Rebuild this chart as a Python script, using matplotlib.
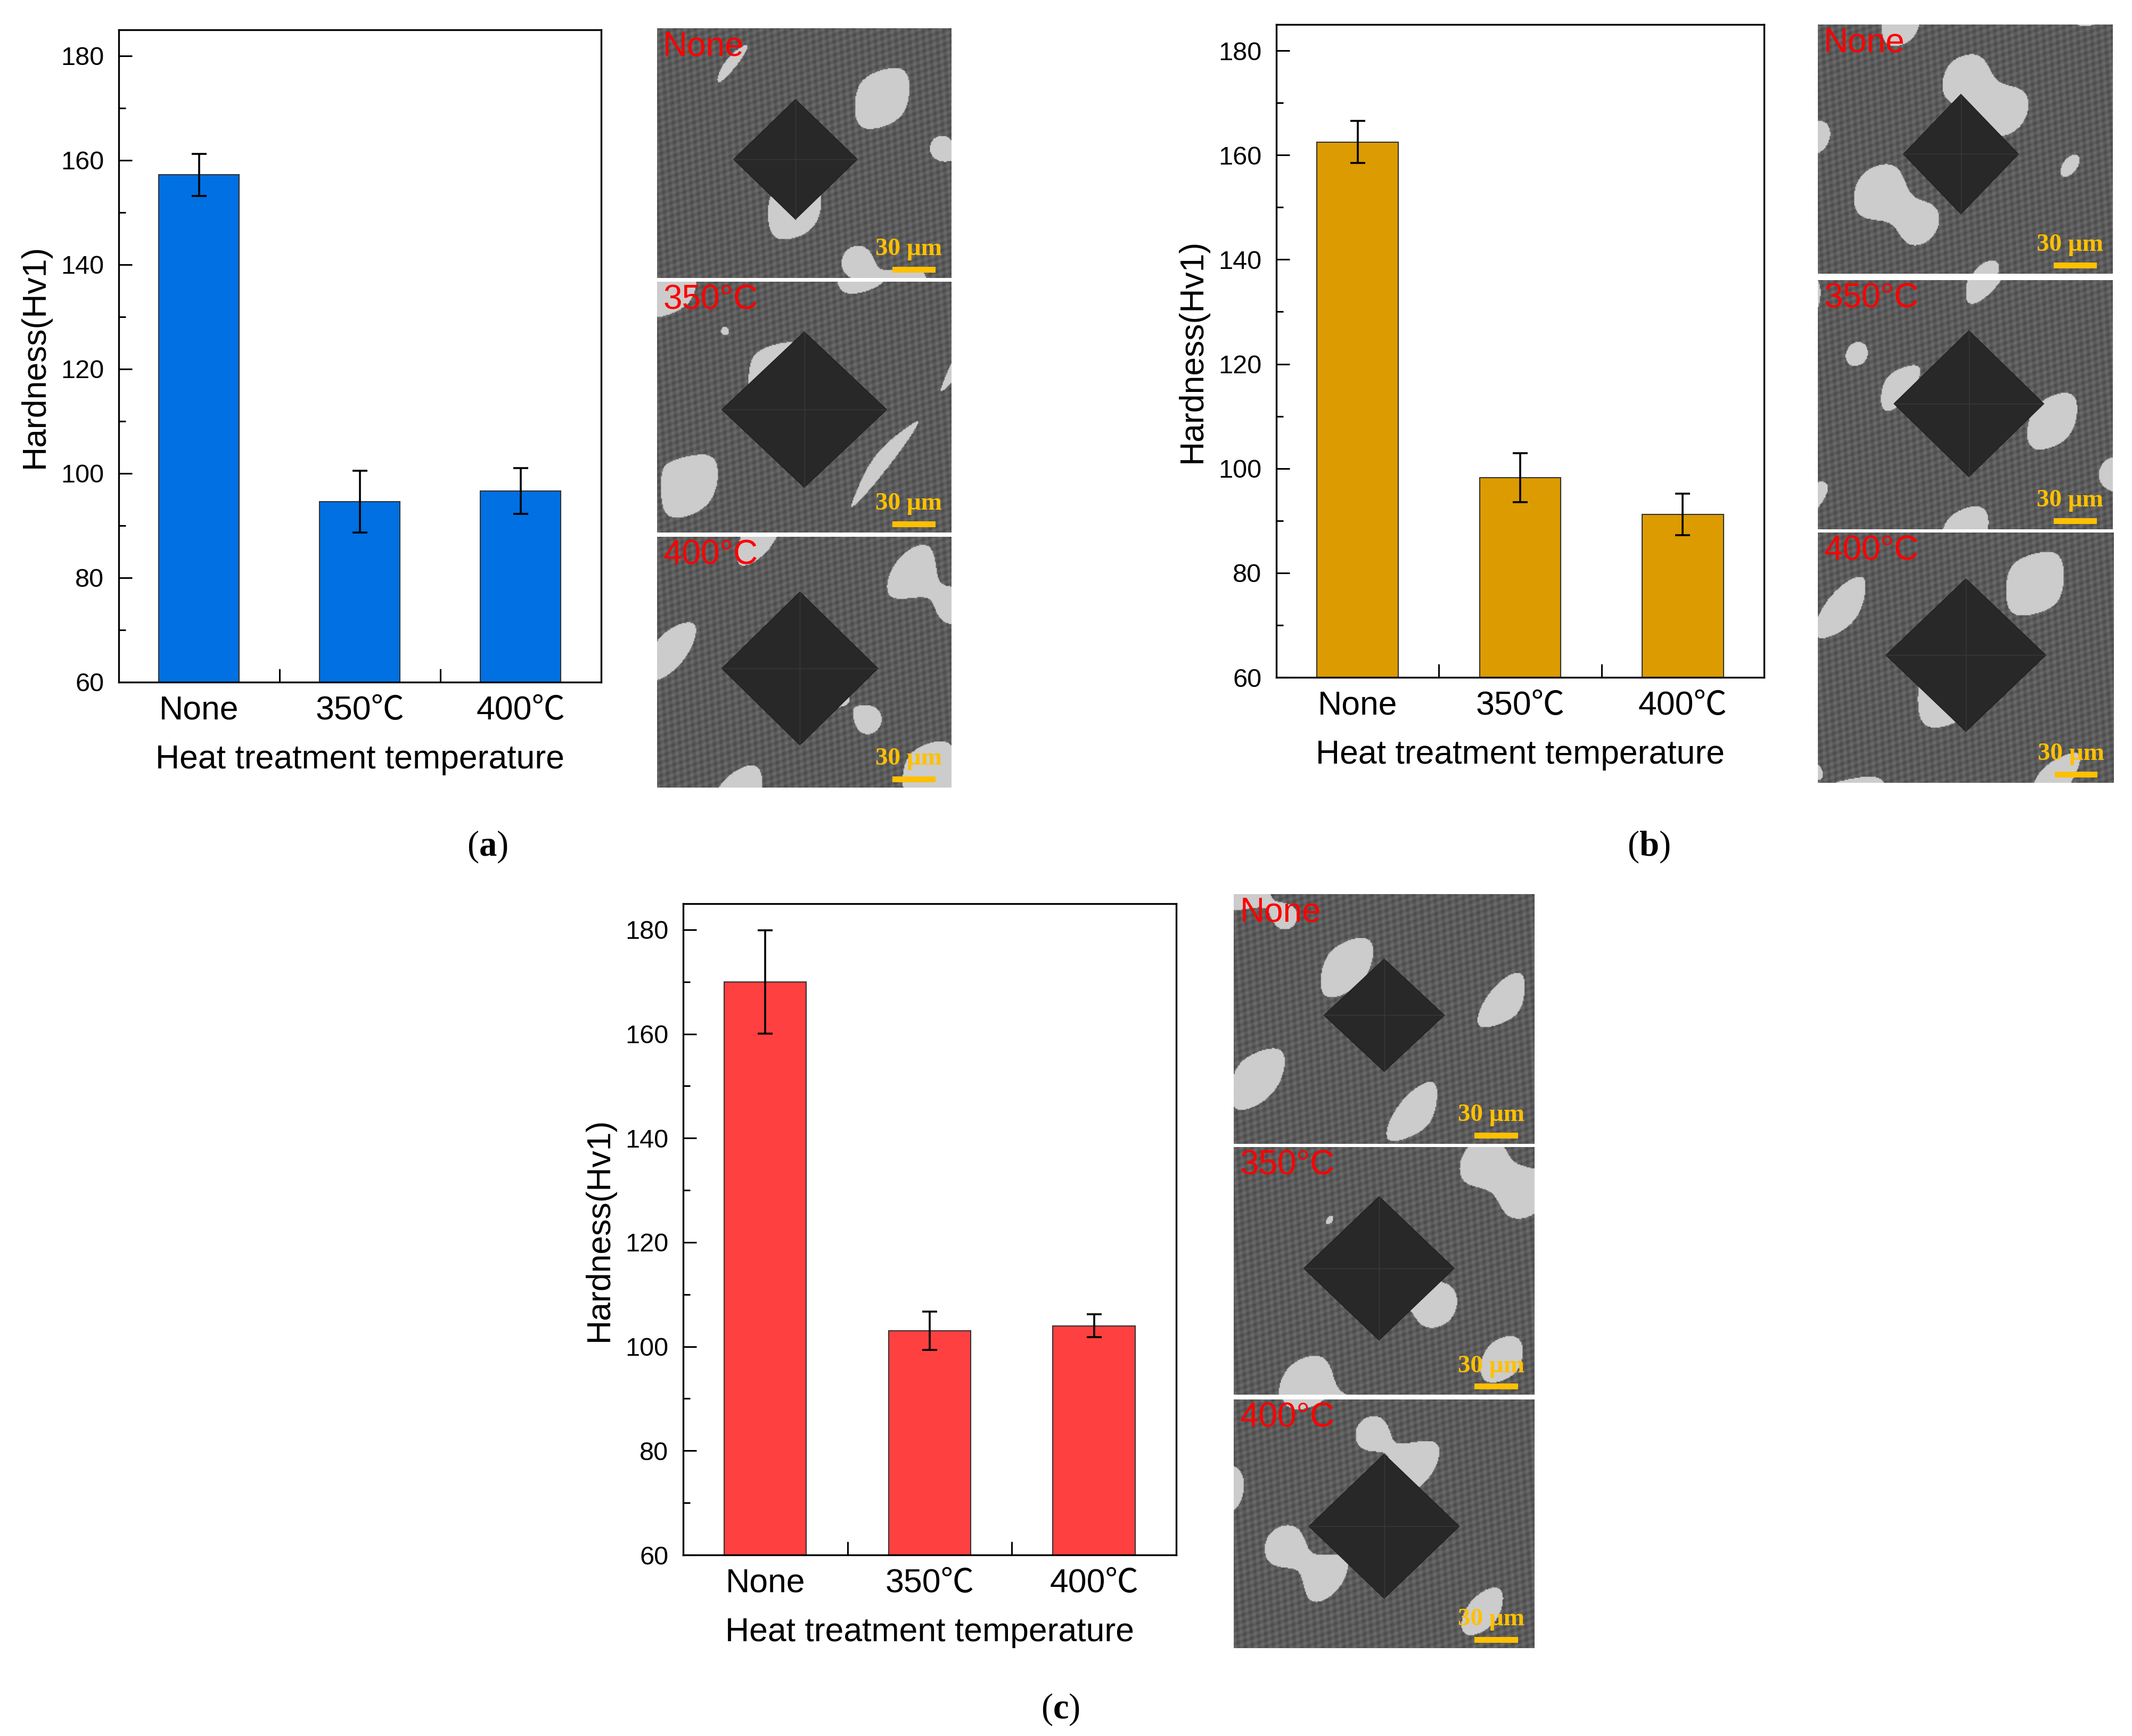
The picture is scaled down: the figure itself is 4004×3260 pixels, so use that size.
import numpy as np
import matplotlib
matplotlib.use("Agg")
import matplotlib.pyplot as plt
from matplotlib.patches import Polygon, Rectangle

# ---------------- data ----------------
categories = ["None", "350℃", "400℃"]
hardness_a = [157.2, 94.6, 96.6]
error_a = [4.0, 5.9, 4.4]
hardness_b = [162.5, 98.2, 91.2]
error_b = [4.0, 4.7, 4.0]
hardness_c = [170.0, 103.0, 104.0]
error_c = [9.9, 3.7, 2.2]
yticks = [60, 80, 100, 120, 140, 160, 180]
micro_labels = ["None", "350°C", "400°C"]
panel_labels = ["a", "b", "c"]
scale_text = "30 μm"
ylabel = "Hardness(Hv1)"
xlabel = "Heat treatment temperature"

# ---------------- style ----------------
plt.rcParams['font.family'] = ['Liberation Sans', 'Noto Sans CJK SC', 'DejaVu Sans']
plt.rcParams['mathtext.fontset'] = 'custom'
plt.rcParams['mathtext.rm'] = 'Liberation Serif'
plt.rcParams['mathtext.bf'] = 'Liberation Serif:bold'

W, H = 4005, 3260
fig = plt.figure(figsize=(W / 100, H / 100), dpi=100)
fig.patch.set_facecolor("white")


def rect(x0, x1, y0, y1):
    return [x0 / W, 1 - y1 / H, (x1 - x0) / W, (y1 - y0) / H]


def bar_panel(box, values, errors, color):
    ax = fig.add_axes(rect(*box))
    x = np.arange(1, len(categories) + 1)
    ax.bar(x, values, width=0.5, color=color, edgecolor="#333333", linewidth=1.5, zorder=2)
    ax.errorbar(x, values, yerr=errors, fmt="none", ecolor="black", elinewidth=2.6,
                capsize=10, capthick=2.6, zorder=3)
    ax.set_xlim(0.5, 3.5)
    ax.set_ylim(60, 185)
    ax.set_yticks(yticks)
    ax.set_yticks(np.arange(70, 185, 20), minor=True)
    ax.set_xticks(x)
    ax.set_xticklabels(categories)
    ax.set_xticks([1.5, 2.5], minor=True)
    ax.tick_params(axis="y", which="major", direction="in", length=18, width=2.2,
                   labelsize=35, pad=20)
    ax.tick_params(axis="y", which="minor", direction="in", length=9, width=2.2)
    ax.tick_params(axis="x", which="major", length=0, labelsize=45, pad=17)
    ax.tick_params(axis="x", which="minor", direction="in", length=18, width=2.2)
    for s in ax.spines.values():
        s.set_linewidth(2.4)
    ax.set_ylabel(ylabel, fontsize=45, labelpad=14)
    ax.set_xlabel(xlabel, fontsize=45, labelpad=24)
    return ax


def micro_texture(k, w=300, h=250):
    yy, xx = np.mgrid[0:h, 0:w] / 38.0
    f = (np.sin(1.3 * xx + 0.7 * k) * np.sin(1.1 * yy + 1.9 * k)
         + 0.5 * np.sin(0.8 * xx - 1.5 * yy + 2.3 * k)
         + 0.35 * np.sin(2.7 * xx + 2.1 * yy + 0.4 * k))
    grain = 0.36 + 0.07 * np.sin(23 * xx + 17 * yy) * np.sin(19 * yy - 11 * xx)
    return np.where(f > 0.8, 0.80, grain)


def micrograph(box, label, k, diamond):
    ax = fig.add_axes(rect(*box))
    ax.imshow(micro_texture(k), cmap="gray", vmin=0, vmax=1, extent=(0, 1, 0, 1),
              aspect="auto", interpolation="bilinear")
    cx, cy, hw, hh = diamond
    cy = 1 - cy
    ax.add_patch(Polygon([(cx - hw, cy), (cx, cy + hh), (cx + hw, cy), (cx, cy - hh)],
                         closed=True, facecolor="#282828", edgecolor="#202020", lw=1))
    ax.plot([cx - hw, cx + hw], [cy, cy], color="#3a3a3a", lw=1)
    ax.plot([cx, cx], [cy - hh, cy + hh], color="#3a3a3a", lw=1)
    ax.text(0.02, 0.99, label, transform=ax.transAxes, color="#FF0000", fontsize=46,
            ha="left", va="top")
    ax.text(0.855, 0.115, scale_text, transform=ax.transAxes, color="#FFC000",
            fontsize=34, fontfamily="Liberation Serif", fontweight="bold",
            ha="center", va="center")
    ax.add_patch(Rectangle((0.80, 0.022), 0.145, 0.023, transform=ax.transAxes,
                           facecolor="#FFC000", edgecolor="none"))
    ax.set_xlim(0, 1)
    ax.set_ylim(0, 1)
    ax.axis("off")
    return ax


# ---------------- panels ----------------
bar_panel((223, 1129, 56, 1281), hardness_a, error_a, "#0070E2")
bar_panel((2397, 3313, 46, 1272), hardness_b, error_b, "#DC9B00")
bar_panel((1283, 2209, 1697, 2920), hardness_c, error_c, "#FF4040")

micro_boxes_a = [(1234, 1787, 53, 522), (1234, 1787, 529, 1000), (1234, 1787, 1008, 1479)]
micro_boxes_b = [(3414, 3968, 46, 514), (3414, 3968, 526, 994), (3414, 3970, 1000, 1470)]
micro_boxes_c = [(2317, 2882, 1679, 2148), (2317, 2882, 2154, 2619), (2317, 2882, 2628, 3095)]

diam_a = [(0.47, 0.525, 0.21, 0.24), (0.50, 0.51, 0.28, 0.31), (0.485, 0.525, 0.265, 0.305)]
diam_b = [(0.485, 0.52, 0.195, 0.24), (0.512, 0.496, 0.254, 0.293), (0.50, 0.49, 0.27, 0.305)]
diam_c = [(0.50, 0.485, 0.20, 0.225), (0.483, 0.49, 0.25, 0.29), (0.50, 0.51, 0.25, 0.29)]

k = 0
for boxes, diams in [(micro_boxes_a, diam_a), (micro_boxes_b, diam_b), (micro_boxes_c, diam_c)]:
    for box, lab, d in zip(boxes, micro_labels, diams):
        micrograph(box, lab, k, d)
        k += 1

# panel letters
for (px, py), letter in zip([(915, 1590), (3096, 1590), (1992, 3210)], panel_labels):
    fig.text(px / W, 1 - py / H, r"($\mathbf{" + letter + r"}$)", fontsize=48,
             fontfamily="Liberation Serif", ha="center", va="center")

fig.savefig("out.png", dpi=100, facecolor="white")
